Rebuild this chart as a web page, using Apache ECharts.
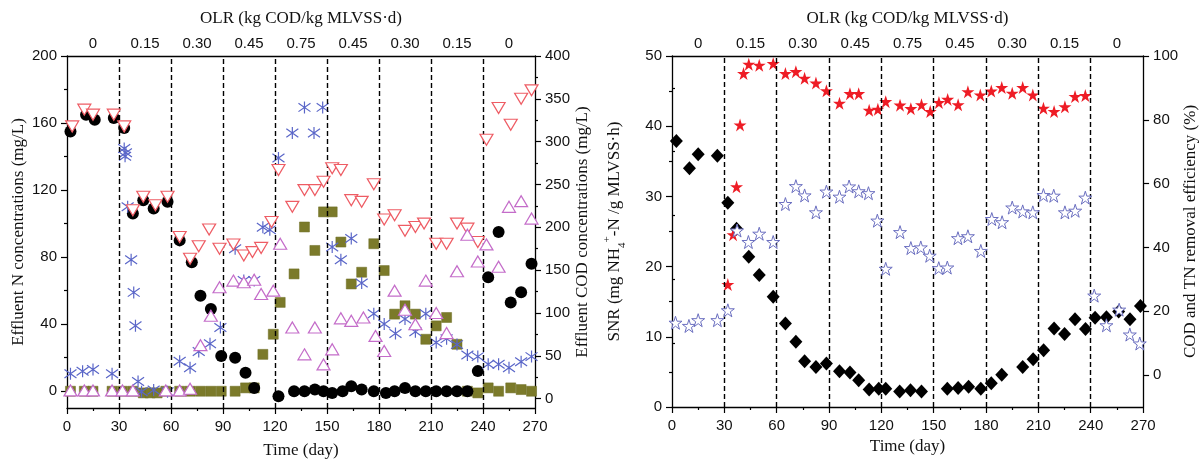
<!DOCTYPE html>
<html><head><meta charset="utf-8">
<script src="https://cdn.jsdelivr.net/npm/echarts@6/dist/echarts.min.js"></script>
<style>html,body{margin:0;padding:0;background:#fff}#c{width:1200px;height:464px}</style>
</head><body><div id="c"></div>
<script>
// ---------- shared ----------
const olrLabels = ['0','0.15','0.30','0.45','0.75','0.45','0.30','0.15','0'];
const phaseDays = [30,60,90,120,150,180,210,240];

// ---------- left panel: effluent concentrations ----------
// black circles (left axis, mg N/L)
const circDays = [2,11,16,27,33,38,44,50,58,65,72,77,83,89,97,103,108,122,131,137,143,148,153,159,164,170,177,184,189,195,201,207,213,219,225,231,237,243,249,256,262,268];
const circVals = [155,165,162,163,157,106,114,109,113,90,77,57,49,21,20,11,2,-3,0,0,1,0,-1,0,3,1,0,-1,0,2,0,0,0,0,0,0,12,68,95,53,59,76];
// red open down-triangles (left axis)
const dtriDays = [3,10,15,27,33,38,44,51,58,65,71,76,82,88,96,102,107,112,118,122,130,137,143,148,153,158,164,170,177,183,189,195,201,206,213,219,225,231,237,242,249,256,262,268];
const dtriVals = [158,168,165,165,158,108,116,111,116,92,79,86.5,96.5,85,87.5,81,83,85.5,101,132,110,120,120,125,133,132,114,113,123.5,102.5,105,95.7,98,100,88,88,100,97,89,150,169,159,174.5,179.5];
// purple open up-triangles (left axis)
const utriDays = [2,10,15,26,32,38,57,65,71,77,83,88,96,102,108,112,119,123,130,137,143,148,153,158,164,171,178,183,189,195,201,207,213,219,225,231,237,242,249,255,262,268];
const utriVals = [0.5,0.5,0.5,0.5,0.5,0.5,0.5,0.5,1.5,27.5,45,62,66,65,66.5,58,60,88,38,22,38,16,25,43.5,42,44,33,24,60,48.6,40,66,46.7,34.7,71.6,93.4,77.4,87.6,74.3,110,113.4,103];
// olive squares (left axis)
const sqDays = [2,10,15,26,32,38,44,48,52,57,65,71,77,83,89,97,103,108,113,119,123,131,137,143,148,153,158,164,170,177,183,189,195,201,207,213,219,225,231,237,243,249,256,262,268];
const sqVals = [0,0,0,0,0,0,-1,-1,-1,0,0,0,0,0,0,0,2,2,22,34,53,70,98,84,107,107,89,64,71,88,72,46,51,46,31,39,44,28,0,-1,2,0,2,1,0];
// blue asterisks (right axis, mg COD/L)
const astDays = [2,9,15,26,33,34,33.5,35,37,38.5,39.5,41,43,50,58,65,71,76,82.5,88.5,97,102,108,113,117,122,130,137,142.5,147.5,153,158,164,170,177,183,189.5,195,201,207,213,219,225,231,237,243,249,255,262,268];
const astVals = [29,32,34,29,292,287,283,224,162,124,85,20,8,10,8,43.5,36,55,64,83,175,138,138,200,197,281,310,340,310,340,177,162,187,135,99,87,76,93,78,99,65.5,70,63,51,49,40,40,36,43,49];

// ---------- right panel: SNR and removal efficiency ----------
const snrDays = [2.5,10,15,26,32,37,44,50,58,65,71,76,82.5,88.5,96,102,107,113,118.5,122.5,130.5,136.7,143,157.8,164,170,177,183,189,201,207,213,219,225,231,237,242.5,249,256,262.5,268.5];
const snrVals = [37.9,34,36,35.8,29.1,25.4,21.4,18.8,15.7,11.9,9.3,6.5,5.7,6.2,5.1,4.9,3.8,2.5,2.6,2.6,2.2,2.4,2.2,2.6,2.7,2.9,2.6,3.4,4.6,5.7,6.8,8.1,11.2,10.4,12.5,11.1,12.7,12.8,13.6,12.5,14.4];
const codRemDays = [32,35,37,39,41,44,50,58,65,71,76,82.5,88.5,96,102,107,113,118,122.5,130.7,136.9,143,148,153,158,164,169.6,176.7,183,189,195,201,206.8,212.9,219,225.2,231,236.9];
const codRemVals = [28.4,44,59,78.4,94.5,97.4,97.1,97.6,94.5,95.1,93,91.5,89.1,85.2,88.2,88.2,83,83.3,85.7,84.6,83.5,84.7,82.6,85.4,86.4,84.7,88.8,87.8,89,90.1,88.3,90.1,87.8,83.6,82.6,84.1,87.3,87.6];
const tnRemDays = [2,9.7,15,26,32,37.3,43.8,50,58,65,71,76,82.5,88.5,96,101.5,107,112.6,117.7,122.5,130.7,136.9,142.6,147.7,152.9,157.8,163.9,169.6,177,183.3,189.2,195,201,206.8,212.9,218.8,225.2,231.1,236.9,242,249,256.3,262.4,268.1];
const tnRemVals = [16.4,15.4,17.2,17.2,20.3,45.3,41.7,44.3,41.7,53.6,59.2,56.3,51,57.5,55.9,59.1,57.6,57,48.4,33.3,44.8,39.8,40,37.4,33.5,33.7,42.9,43.5,38.9,48.9,47.9,52.5,51.3,51,56.4,56.2,51,51.5,55.6,24.9,15.6,20.5,12.7,9.9];

// ---------- tick label sets ----------
const leftNTicks = [0,40,80,120,160,200];
const leftNMinor = [20,60,100,140,180];
const leftCodTicks = [0,50,100,150,200,250,300,350,400];
const leftCodMinor = [25,75,125,175,225,275,325,375];
const effTicks = [0,20,40,60,80,100];
const effMinor = [10,30,50,70,90];

function zip(d, v) { return d.map((x, i) => [x, v[i]]); }

const SANS = 'Liberation Sans';
const SERIF = 'Liberation Serif';
const INK = '#111';
const axisLine = { show: true, onZero: false, lineStyle: { color: '#000', width: 1.3 } };
const lbl = { fontFamily: SANS, fontSize: 15, color: INK };
const nameStyle = { fontFamily: SERIF, fontSize: 17, color: INK };

const STAR = 'path://M50,0 L61.2,34.5 L97.6,34.5 L68.2,55.9 L79.4,90.5 L50,69.1 L20.6,90.5 L31.8,55.9 L2.4,34.5 L38.8,34.5 Z';
const AST = 'path://M0,-10 L0,10 M-7.07,-7.07 L7.07,7.07 M-7.07,7.07 L7.07,-7.07';

function bottomX(grid, gap) {
  return {
    type: 'value', gridIndex: grid, position: 'bottom', min: 0, max: 270, interval: 30,
    axisLine, axisTick: { show: true, length: 6, lineStyle: { color: '#000', width: 1.2 } },
    minorTick: { show: true, splitNumber: 2, length: 3, lineStyle: { color: '#000', width: 1.2 } },
    splitLine: { show: false }, minorSplitLine: { show: false },
    axisLabel: Object.assign({ margin: 11 }, lbl),
    name: 'Time (day)', nameLocation: 'middle', nameGap: gap, nameTextStyle: nameStyle
  };
}
function topX(grid) {
  return {
    type: 'category', gridIndex: grid, position: 'top', data: olrLabels, boundaryGap: true,
    axisLine, axisTick: { show: false }, splitLine: { show: false },
    axisLabel: Object.assign({ margin: 5, interval: 0 }, lbl),
    name: 'OLR (kg COD/kg MLVSS·d)', nameLocation: 'middle', nameGap: 29, nameTextStyle: nameStyle
  };
}
function yMain(grid, pos, min, max, ticks, name, gap) {
  return {
    type: 'value', gridIndex: grid, position: pos, min, max,
    axisLine, splitLine: { show: false },
    axisTick: { show: true, length: 6, customValues: ticks, lineStyle: { color: '#000', width: 1.2 } },
    axisLabel: Object.assign({ margin: 10, customValues: ticks }, lbl),
    name, nameLocation: 'middle', nameGap: gap, nameRotate: 90, nameTextStyle: nameStyle
  };
}
function yMinor(grid, pos, min, max, ticks) {
  return {
    type: 'value', gridIndex: grid, position: pos, min, max,
    axisLine: { show: false }, splitLine: { show: false },
    axisTick: { show: true, length: 3, customValues: ticks, lineStyle: { color: '#000', width: 1.2 } },
    axisLabel: { show: false }
  };
}
const dashLines = {
  silent: true, symbol: ['none', 'none'], label: { show: false },
  lineStyle: { color: '#000', type: [5, 3], width: 1.4 },
  emphasis: { disabled: true },
  data: phaseDays.map(d => ({ xAxis: d }))
};

const option = {
  animation: false,
  backgroundColor: '#fff',
  textStyle: { fontFamily: SANS },
  grid: [
    { left: 67, top: 56, width: 468, height: 360 },
    { left: 672, top: 56, width: 474, height: 351 }
  ],
  xAxis: [bottomX(0, 34), topX(0), bottomX(1, 31), topX(1)],
  yAxis: [
    yMain(0, 'left', -10, 200, leftNTicks, 'Effluent N concentrations (mg/L)', 40),
    yMain(0, 'right', -11, 400, leftCodTicks, 'Effluent COD concentrations (mg/L)', 38),
    yMinor(0, 'left', -10, 200, leftNMinor),
    yMinor(0, 'right', -11, 400, leftCodMinor),
    {
      type: 'value', gridIndex: 1, position: 'left', min: 0, max: 50, interval: 10,
      axisLine, splitLine: { show: false }, minorSplitLine: { show: false },
      axisTick: { show: true, length: 6, lineStyle: { color: '#000', width: 1.2 } },
      minorTick: { show: true, splitNumber: 2, length: 3, lineStyle: { color: '#000', width: 1.2 } },
      axisLabel: Object.assign({ margin: 10 }, lbl),
      name: '{a|SNR (mg NH}{s|4}{p|+}{a|-N /g MLVSS·h)}', nameLocation: 'middle', nameGap: 44, nameRotate: 90,
      nameTextStyle: Object.assign({}, nameStyle, {
        rich: {
          a: { fontFamily: SERIF, fontSize: 17, color: INK, lineHeight: 26 },
          s: { fontFamily: SERIF, fontSize: 11, color: INK, verticalAlign: 'bottom', lineHeight: 26 },
          p: { fontFamily: SERIF, fontSize: 11, color: INK, verticalAlign: 'top', lineHeight: 26 }
        }
      })
    },
    yMain(1, 'right', -10, 100, effTicks, 'COD and TN removal efficiency (%)', 25),
    yMinor(1, 'right', -10, 100, effMinor)
  ],
  series: [
    { type: 'scatter', name: 'squares', xAxisIndex: 0, yAxisIndex: 0, z: 2,
      symbol: 'rect', symbolSize: 10, itemStyle: { color: '#7b7a2a', borderColor: '#6d6c22', borderWidth: 0.5, opacity: 1 },
      data: zip(sqDays, sqVals), markLine: dashLines },
    { type: 'scatter', name: 'circles', xAxisIndex: 0, yAxisIndex: 0, z: 3,
      symbol: 'circle', symbolSize: 12, itemStyle: { color: '#000', opacity: 1 },
      data: zip(circDays, circVals) },
    { type: 'scatter', name: 'asterisks', xAxisIndex: 0, yAxisIndex: 1, z: 4,
      symbol: AST, symbolSize: 12,
      itemStyle: { color: 'rgba(0,0,0,0)', borderColor: '#5a66c8', borderWidth: 1.2, opacity: 1 },
      data: zip(astDays, astVals) },
    { type: 'scatter', name: 'downTri', xAxisIndex: 0, yAxisIndex: 0, z: 5,
      symbol: 'triangle', symbolRotate: 180, symbolSize: [13, 11],
      itemStyle: { color: '#fff', borderColor: '#ee5c64', borderWidth: 1.2, opacity: 1 },
      data: zip(dtriDays, dtriVals) },
    { type: 'scatter', name: 'upTri', xAxisIndex: 0, yAxisIndex: 0, z: 5,
      symbol: 'triangle', symbolSize: [13, 11],
      itemStyle: { color: '#fff', borderColor: '#c46cc9', borderWidth: 1.2, opacity: 1 },
      data: zip(utriDays, utriVals) },

    { type: 'scatter', name: 'SNR', xAxisIndex: 2, yAxisIndex: 4, z: 3,
      symbol: 'diamond', symbolSize: [13, 14], itemStyle: { color: '#000', opacity: 1 },
      data: zip(snrDays, snrVals), markLine: dashLines },
    { type: 'scatter', name: 'COD removal', xAxisIndex: 2, yAxisIndex: 5, z: 4,
      symbol: STAR, symbolSize: 13, itemStyle: { color: '#ee1c25', opacity: 1 },
      data: zip(codRemDays, codRemVals) },
    { type: 'scatter', name: 'TN removal', xAxisIndex: 2, yAxisIndex: 5, z: 5,
      symbol: STAR, symbolSize: 13,
      itemStyle: { color: '#fff', borderColor: '#6b6fc0', borderWidth: 1, opacity: 1 },
      data: zip(tnRemDays, tnRemVals) }
  ]
};
echarts.init(document.getElementById('c'), null, { renderer: 'canvas' }).setOption(option);
</script>
</body></html>
